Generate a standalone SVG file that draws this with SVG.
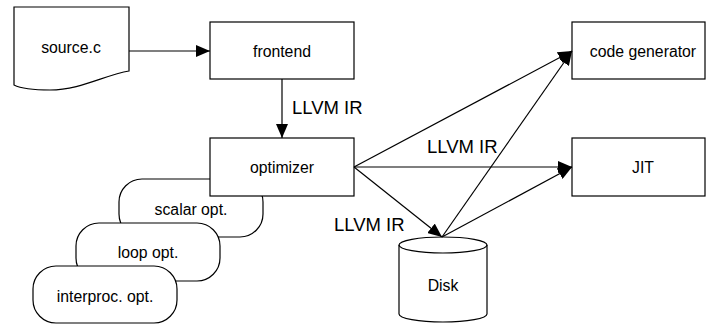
<svg xmlns="http://www.w3.org/2000/svg" width="706" height="324" viewBox="0 0 706 324">
<style>
.n{fill:#fff;stroke:#000;stroke-width:1.2}
.t{font-family:"Liberation Sans",Arial,sans-serif;font-size:15.8px;fill:#000;text-anchor:middle;dominant-baseline:central}
.l{font-family:"Liberation Sans",Arial,sans-serif;font-size:18.5px;fill:#000}
.e{fill:none;stroke:#000;stroke-width:1.2;marker-end:url(#ah)}
</style>
<defs>
<marker id="ah" viewBox="0 0 14 12" markerWidth="14" markerHeight="12" markerUnits="userSpaceOnUse" refX="14" refY="6" orient="auto">
<path d="M0,0 L14,6 L0,12 Z" fill="#000"/>
</marker>
</defs>
<rect width="706" height="324" fill="#fff"/>
<g id="scalar"><rect class="n" x="119" y="179" width="144" height="58" rx="23" ry="23"/><text class="t" x="191" y="209">scalar opt.</text></g>
<g id="loop"><rect class="n" x="76" y="223" width="144" height="58" rx="23" ry="23"/><text class="t" x="148" y="252">loop opt.</text></g>
<g id="interproc"><rect class="n" x="33" y="266" width="144" height="57" rx="23" ry="23"/><text class="t" x="105" y="296">interproc. opt.</text></g>
<g id="source"><path class="n" d="M14,7 H129 V71 C105,75 80,90 50,90 C30,90 20,88 14,85 Z"/><text class="t" x="71" y="47">source.c</text></g>
<g id="frontend"><rect class="n" x="210" y="22" width="144" height="57"/><text class="t" x="282" y="51">frontend</text></g>
<g id="optimizer"><rect class="n" x="210" y="138" width="144" height="58"/><text class="t" x="282" y="167">optimizer</text></g>
<g id="codegen"><rect class="n" x="572" y="22" width="133" height="57"/><text class="t" x="643" y="51">code generator</text></g>
<g id="jit"><rect class="n" x="572" y="138" width="133" height="58"/><text class="t" x="643" y="167">JIT</text></g>
<g id="disk"><path class="n" d="M399,245 A44,8 0 0 1 487,245 V314 A44,8 0 0 1 399,314 Z"/><path class="n" style="fill:none" d="M399,245 A44,8 0 0 0 487,245"/><text class="t" x="443" y="285">Disk</text></g>
<g id="edges">
<line class="e" x1="129" y1="51" x2="210" y2="51"/>
<line class="e" x1="282" y1="79" x2="282" y2="138"/>
<line class="e" x1="354" y1="167" x2="572" y2="51"/>
<line class="e" x1="354" y1="167" x2="572" y2="167"/>
<line class="e" x1="354" y1="167" x2="442" y2="237"/>
<line class="e" x1="442" y1="237" x2="572" y2="51"/>
<line class="e" x1="442" y1="237" x2="572" y2="167"/>
<text class="l" x="292" y="114">LLVM IR</text>
<text class="l" x="427" y="153">LLVM IR</text>
<text class="l" x="334" y="231">LLVM IR</text>
</g>
</svg>
